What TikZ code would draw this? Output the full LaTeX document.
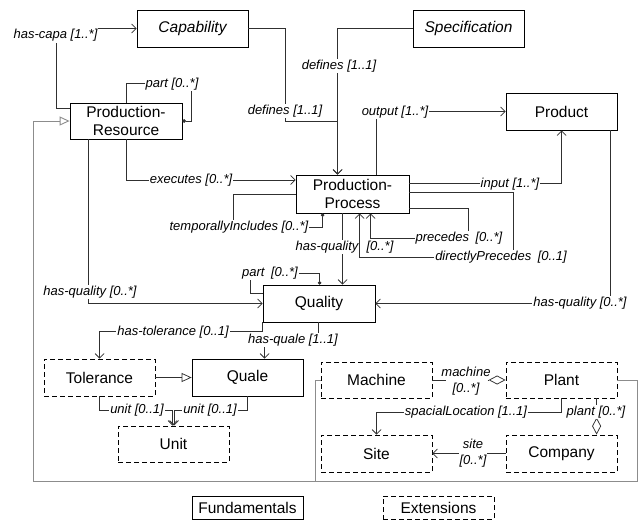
\documentclass[tikz,border=0pt]{standalone}
\usepackage{fontspec}
\setmainfont{Liberation Sans}
\usetikzlibrary{arrows.meta,calc}
\definecolor{lnc}{HTML}{303030}
\definecolor{gnc}{HTML}{8C8C8C}
\begin{document}
\begin{tikzpicture}[x=1pt,y=-1pt,
  box/.style={draw=black,line width=0.8pt,fill=white,minimum width=111pt,minimum height=37pt,inner sep=0pt,align=center,font=\fontsize{15.5}{18}\selectfont},
  ext/.style={box,dashed,dash pattern=on 5pt off 3pt},
  lbl/.style={fill=white,inner sep=1pt,font=\fontsize{13}{15}\selectfont\itshape,align=center},
  assoc/.style={draw=lnc,line width=0.75pt},
  arr/.style={assoc,-{Straight Barb[length=4.5pt,width=9pt,line width=0.75pt]}},
  dotend/.style={assoc,-{Circle[length=3.5pt]}},
  gen/.style={draw=gnc,line width=0.9pt},
  diam/.style={assoc,-{Diamond[open,length=17pt,width=9pt,line width=0.75pt]}}
]
\useasboundingbox (0,0) rectangle (638,520);
% nodes
\node[box] (cap) at (192.5,28.5) {\itshape Capability};
\node[box] (spec) at (468.5,28.5) {\itshape Specification};
\node[box,minimum width=112pt,minimum height=36pt] (pr) at (126,121) {Production-\\Resource};
\node[box] (prod) at (561.5,111.5) {Product};
\node[box,minimum width=113pt,minimum height=38pt] (pp) at (352.5,194) {Production-\\Process};
\node[box,minimum width=112pt] (qual) at (319,303.5) {Quality};
\node[ext] (tol) at (99.5,377.5) {Tolerance};
\node[box] (quale) at (247.5,377.5) {Quale};
\node[ext,minimum height=36pt] (unit) at (173.5,444) {Unit};
\node[ext,minimum height=36pt] (mach) at (376.5,380) {Machine};
\node[ext,minimum height=36pt] (plant) at (561.5,380) {Plant};
\node[ext] (site) at (376.5,453.5) {Site};
\node[ext] (comp) at (561.5,453.5) {Company};
\node[box,minimum height=23pt] (fund) at (247.5,507.5) {Fundamentals};
\node[ext,minimum height=23pt] (extn) at (438.5,507.5) {Extensions};
\coordinate (ppin) at ($(pp.north west)+(42,0)$);

% generalisation frame
\draw[gen] (mach.west) -| (315,481);
\draw[gen,-{Triangle[open,length=10pt,width=9pt,line width=0.9pt]}] (plant.east) -| (637,481) -- (33,481) |- (pr.west);

% has-capa
\draw[arr] ($(pr.north west)+(0,6)$) -| (56,28.5) -- (cap.west);
\node[lbl] at (55.5,35.5) {has-capa [1..*]};
% part on PR
\draw[dotend] (pr.north) -- ++(0,-19) -| ($(pr.east)+(9,0)$) -- (pr.east);
\node[lbl] at (172,84) {part [0..*]};
% defines from Capability
\draw[arr] (cap.east) -| (285,121) -| (ppin);
\node[lbl] at (285,111) {defines [1..1]};
% defines from Specification
\draw[arr] (spec.west) -| (ppin);
\node[lbl] at (339,66) {defines [1..1]};
% output
\draw[arr] ($(pp.north west)+(81,0)$) |- (prod.west);
\node[lbl] at (395,112) {output [1..*]};
% input
\draw[arr] ($(pp.north east)+(0,9)$) -| ($(prod.south west)+(56,0)$);
\node[lbl] at (510,184) {input [1..*]};
% has-quality from product
\draw[arr] ($(prod.south east)+(-7,0)$) |- (qual.east);
\node[lbl] at (580,303.5) {has-quality [0..*]};
% executes
\draw[arr] (pr.south) |- ($(pp.west)+(0,-14)$);
\node[lbl] at (191,180) {executes [0..*]};
% has-quality from PR
\draw[arr] ($(pr.south west)+(19,0)$) |- (qual.west);
\node[lbl] at (90,292) {has-quality [0..*]};
% temporallyIncludes
\draw[dotend] (pp.west) -| (233,227) -| ($(pp.south west)+(27,0)$);
\node[lbl] at (239,227) {temporallyIncludes [0..*]};
% has-quality PP -> Quality
\draw[arr] ($(pp.south west)+(47,0)$) -- ($(qual.north west)+(80,0)$);
\node[lbl] at (327,247) {has-quality};
\node[lbl,fill=none] at (380,247) {[0..*]};
% precedes
\draw[arr] ($(pp.south east)+(0,-5)$) -| (468,238) -| ($(pp.south west)+(75,0)$);
\node[lbl] at (459,238) {precedes\enspace[0..*]};
% directlyPrecedes
\draw[arr] ($(pp.north east)+(0,18)$) -| (513,257) -| ($(pp.south west)+(64,0)$);
\node[lbl] at (501,257) {directlyPrecedes\enspace[0..1]};
% part on Quality
\draw[dotend] ($(qual.north west)+(0,9)$) -| (250,273) -| ($(qual.north west)+(57,0)$);
\node[lbl] at (270,273) {part\enspace[0..*]};
% has-tolerance
\draw[arr] (qual.south west) -- ++(0,9) -| ($(tol.north west)+(56,0)$);
\node[lbl] at (173,332) {has-tolerance [0..1]};
% has-quale
\draw[arr] ($(qual.south west)+(56,0)$) -- ++(0,18) -| ($(quale.north west)+(73,0)$);
\node[lbl] at (293,340) {has-quale [1..1]};
% Tolerance is-a Quale
\draw[assoc,-{Triangle[open,length=10pt,width=9pt,line width=0.75pt]}] (tol.east) -- (quale.west);
% units
\draw[arr] ($(tol.south west)+(56,0)$) -- ++(0,14) -| ($(unit.north west)+(55,0)$);
\node[lbl] at (137,410) {unit [0..1]};
\draw[arr] ($(quale.south west)+(56,0)$) -- ++(0,14) -| ($(unit.north west)+(56.5,0)$);
\node[lbl] at (210,410) {unit [0..1]};
% machine
\draw[assoc] (mach.east) -- ++(14,0);
\draw[diam] ($(plant.west)+(-18,0)$) -- (plant.west);
\node[lbl,fill=none] at (466,381) {machine\\[1pt][0..*]};
% spacialLocation
\draw[arr] ($(plant.south west)+(56,0)$) -- ++(0,14) -| ($(site.north west)+(56,0)$);
\node[lbl] at (466,412) {spacialLocation [1..1]};
% plant
\draw[diam] ($(plant.south west)+(91,0)$) -- ($(comp.north west)+(91,0)$);
\node[lbl] at (596,412) {plant [0..*]};
% site
\draw[arr] (comp.west) -- (site.east);
\node[lbl] at (473,453) {site\\[1pt][0..*]};
\end{tikzpicture}
\end{document}
